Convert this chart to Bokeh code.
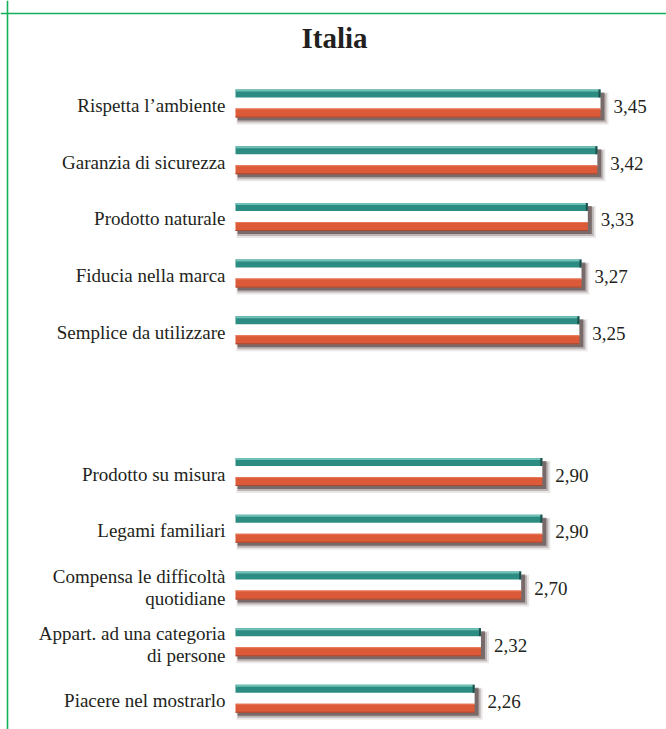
from bokeh.plotting import figure
from bokeh.models import Range1d, ColumnDataSource, Span
from bokeh.core.properties import value
from bokeh.embed import file_html
from bokeh.resources import INLINE

title_text = "Italia"
categories = [
    "Rispetta l’ambiente",
    "Garanzia di sicurezza",
    "Prodotto naturale",
    "Fiducia nella marca",
    "Semplice da utilizzare",
    "Prodotto su misura",
    "Legami familiari",
    "Compensa le difficoltà\nquotidiane",
    "Appart. ad una categoria\ndi persone",
    "Piacere nel mostrarlo",
]
scores = [3.45, 3.42, 3.33, 3.27, 3.25, 2.90, 2.90, 2.70, 2.32, 2.26]
group_sizes = [5, 5]

W, H = 666, 729
ROW_PX = 56.7
ROW0 = 104.0
X0 = 235.0
XU = 105.8

pos = []
r = 0.0
for n in group_sizes:
    for k in range(n):
        pos.append(r)
        r += 1
    r += 1.5

py = 1.0 / ROW_PX
px = 1.0 / XU

p = figure(width=W, height=H, output_backend="svg", toolbar_location=None,
           x_range=Range1d(-X0 / XU, (W - X0) / XU),
           y_range=Range1d((H - ROW0) / ROW_PX, -ROW0 / ROW_PX),
           min_border=0)
p.axis.visible = False
p.grid.visible = False
p.outline_line_color = None
p.background_fill_color = "white"
p.border_fill_color = "white"

green = "#13b15a"
p.add_layout(Span(location=(7 - X0) / XU, dimension="height", line_color=green, line_width=1.6))
p.add_layout(Span(location=(13 - ROW0) / ROW_PX, dimension="width", line_color=green, line_width=1.6))

def src(dl, dr, t, b):
    return ColumnDataSource(dict(
        left=[0 + dl * px for _ in scores],
        right=[v + dr * px for v in scores],
        top=[y + t * py for y in pos],
        bottom=[y + b * py for y in pos],
    ))

def bar(dl, dr, t, b, color, alpha=1.0):
    p.quad(source=src(dl, dr, t, b), left="left", right="right", top="top", bottom="bottom",
           fill_color=color, fill_alpha=alpha, line_color=None)

# shadows
bar(1, 8, -12, 20, "#6b5a57", 0.15)
bar(2, 6, -11, 18, "#5a4744", 0.3)
bar(2, 4, -12, 16, "#4a3835", 0.6)
# white middle
bar(0, 0, -8, 5, "white")
# teal stripe
bar(0, 0, -15, -7, "#2d8c82")
bar(0, 0, -15, -13, "#6fc0b6")
# red stripe
bar(0, 0, 4, 13, "#dc5a38")
bar(0, 0, 4, 5, "#e8785a")
bar(0, 0, 12, 13, "#a44a34")

cap = ColumnDataSource(dict(left=[v - 2 * px for v in scores], right=scores,
                            top=[y - 15 * py for y in pos], bottom=[y - 7 * py for y in pos]))
p.quad(source=cap, left="left", right="right", top="top", bottom="bottom",
       fill_color="#1d4f4b", line_color=None)

font = value("Liberation Serif, DejaVu Serif, serif")
lab = ColumnDataSource(dict(x=[0] * len(scores), y=[y + 1 * py for y in pos], t=categories))
p.text(source=lab, x="x", y="y", text="t", x_offset=-10, text_align="right",
       text_baseline="middle", text_font=font, text_font_size="19px",
       text_color="#231f20", text_line_height=1.05)

vals = ColumnDataSource(dict(x=scores, y=[y + 2 * py for y in pos],
                             t=[f"{v:.2f}".replace(".", ",") for v in scores]))
p.text(source=vals, x="x", y="y", text="t", x_offset=13, text_align="left",
       text_baseline="middle", text_font=font, text_font_size="19px", text_color="#231f20")

tsrc = ColumnDataSource(dict(x=[(334 - X0) / XU], y=[(37 - ROW0) / ROW_PX], t=[title_text]))
p.text(source=tsrc, x="x", y="y", text="t", text_align="center", text_baseline="middle",
       text_font=font, text_font_size="29px", text_font_style="bold", text_color="#231f20")

open("out.html", "w").write(file_html(p, INLINE))
